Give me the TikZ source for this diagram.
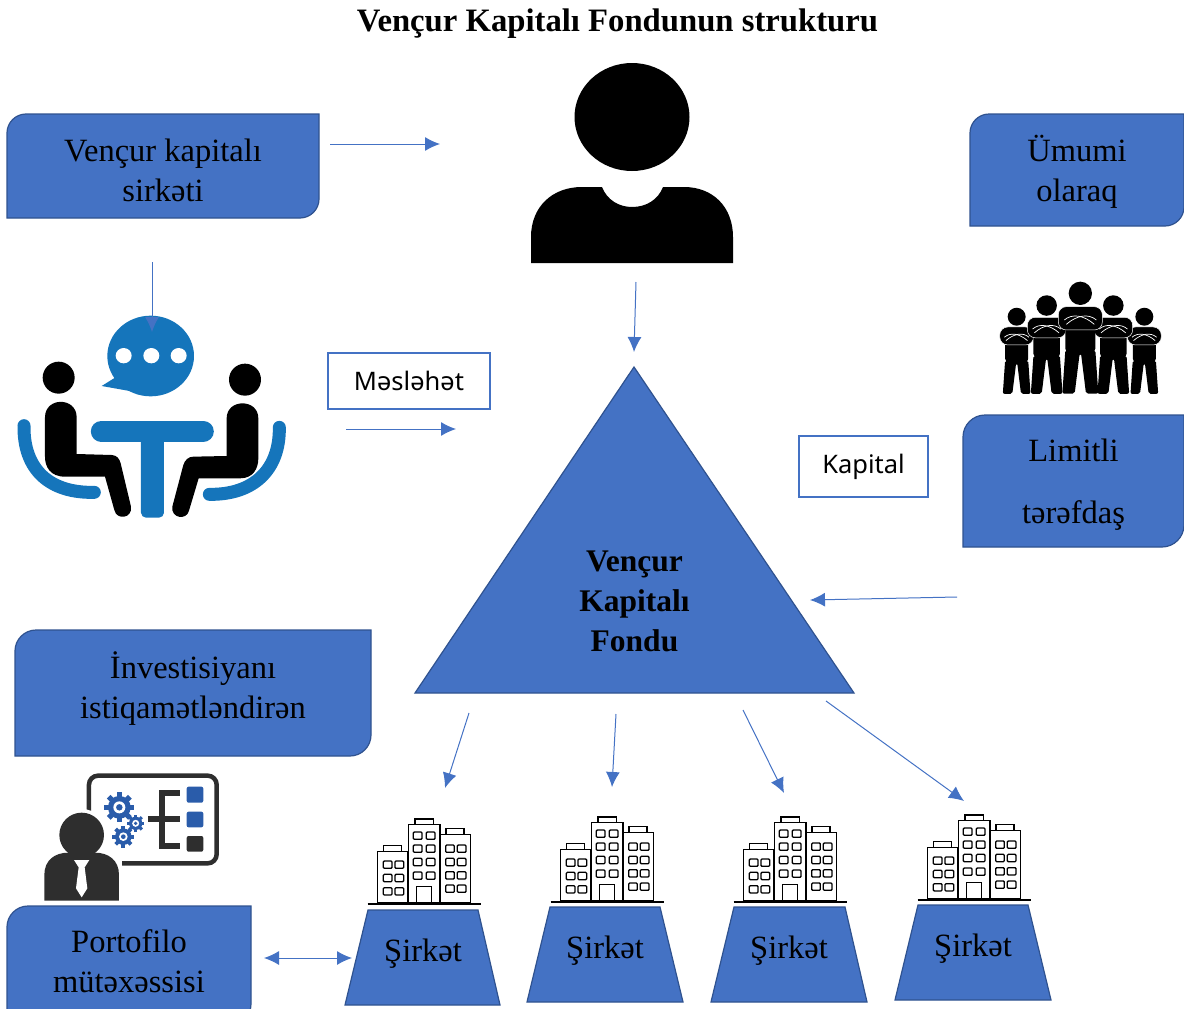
\documentclass[tikz,border=0pt]{standalone}
\usepackage{fontspec}
\setmainfont{Liberation Serif}
\newfontfamily\labelfont{Noto Sans}
\usepackage{tikz}
\usetikzlibrary{calc}
\usetikzlibrary{arrows.meta}
\definecolor{boxblue}{HTML}{4472C4}
\definecolor{boxedge}{HTML}{2F528F}
\definecolor{meetblue}{HTML}{1575BB}
\definecolor{gearblue}{HTML}{2A5CAA}
\definecolor{darkgrey}{HTML}{2E2E2E}
% box with two rounded corners, top left and bottom right
\newcommand{\diagbox}[8]{
\draw[BlueBox] (#4,#3) -- (#4,{#5-#6}) .. controls (#4,{#5-.45*#6}) and ({#4-.45*#6},#5) .. ({#4-#6},#5) -- (#2,#5) -- (#2,{#3+#6}) .. controls (#2,{#3+.45*#6}) and ({#2+.45*#6},#3) .. ({#2+#6},#3) -- cycle;
\node[BoxText] (#1) at ({(#2+#4)/2},#8) {#7};
}
\tikzset{
pics/building/.style={code={
\begin{scope}[scale=1/3]
\draw[line width=1.7pt] (-169,0)--(170,0);
\draw[BuildLine] (-140,-3) rectangle (-50,-158);
\draw[BuildLine] (-122,-158) rectangle (-67,-175);
\draw[BuildLine] (-47,-3) rectangle (48,-238);
\draw[BuildLine] (-27,-238) rectangle (28,-255);
\draw[BuildLine] (50,-3) rectangle (140,-208);
\draw[BuildLine] (66,-208) rectangle (120,-226);
\draw[BuildLine] (-22,-3) rectangle (23,-53);
\foreach \wx in {-109,-74}
\foreach \wy in {-118,-78,-38}
\draw[BuildLine,rounded corners=1pt] (\wx-13,\wy-11) rectangle (\wx+13,\wy+11);
\foreach \wx in {-19,20}
\foreach \wy in {-205,-166,-126,-85}
\draw[BuildLine,rounded corners=1pt] (\wx-13,\wy-11) rectangle (\wx+13,\wy+11);
\foreach \wx in {78,113}
\foreach \wy in {-166,-126,-86,-46}
\draw[BuildLine,rounded corners=1pt] (\wx-13,\wy-11) rectangle (\wx+13,\wy+11);
\end{scope}
}},
pics/teamman/.style={code={
\fill (0,-305) circle (35);
\fill[rounded corners=3pt] (-45,-225) rectangle (45,-130);
\fill[rounded corners=2pt] (-45,-135) -- (45,-135) -- (54,-4) -- (17,-4) -- (2,-125) -- (-2,-125) -- (-17,-4) -- (-54,-4) -- cycle;
\fill[draw=white,line width=.5pt,rounded corners=8pt] (-66,-265) rectangle (66,-195);
\draw[white,line width=.7pt] (-48,-225) .. controls (-25,-245) and (10,-240) .. (42,-212);
\draw[white,line width=.7pt] (48,-225) .. controls (25,-245) and (-10,-240) .. (-42,-212);
}},
pics/gear/.style={code={
\foreach \ga in {0,45,...,315}
\fill[gearblue,rotate=\ga] (-.22,.8) rectangle (.22,1.25);
\fill[gearblue] (0,0) circle (.95);
\fill[white] (0,0) circle (.5);
\fill[gearblue] (0,0) circle (.27);
}}
}
\begin{document}
\begin{tikzpicture}[
x=1pt,y=-1pt,
BlueBox/.style={draw=boxedge,fill=boxblue,line width=1.2pt},
BoxText/.style={align=center,inner sep=0pt,font=\fontsize{32.5}{40}\selectfont},
BoldText/.style={align=center,inner sep=0pt,font=\fontsize{31.5}{40}\selectfont\bfseries},
WhiteBox/.style={draw=boxblue,fill=white,line width=1.8pt,font=\labelfont\fontsize{25.5}{30}\selectfont},
MyArrow/.style={-{Latex[length=15pt,width=14pt]},draw=boxblue,line width=1pt},
BuildLine/.style={draw=black,fill=white,line width=1.3pt}
]
\useasboundingbox (0,0) rectangle (1184,1009);
\clip (0,0) rectangle (1184,1009);

\node[inner sep=0pt,font=\fontsize{32.7}{36}\selectfont\bfseries] (title) at (617.5,24) {Vençur Kapitalı Fondunun strukturu};

% blue boxes
\diagbox{venture}{7}{114}{319}{218}{19}{Vençur kapitalı\\sirkəti}{170}
\diagbox{general}{970}{114}{1184}{226}{19}{Ümumi\\olaraq}{172}
\diagbox{limited}{963}{415}{1184}{547}{22}{Limitli\\[22pt]tərəfdaş}{485}
\diagbox{director}{15}{630}{371}{756}{21}{İnvestisiyanı\\istiqamətləndirən}{688.5}
\diagbox{portfolio}{7}{906}{251}{1025}{21}{Portofilo\\mütəxəssisi}{961.5}

% the fund
\draw[BlueBox,fill=boxblue] (634,367) -- (854,693) -- (415,693) -- cycle;
\node[BoldText] (fund) at (634.5,601) {Vençur\\Kapitalı\\Fondu};

\node[WhiteBox,minimum width=162pt,minimum height=56pt] (advice) at (409,381) {Məsləhət};
\node[WhiteBox,minimum width=129pt,minimum height=61pt] (capital) at (863.5,466.5) {Kapital};

% companies
\draw[BlueBox] (368,910) -- (478,910) -- (500,1005) -- (345,1005) -- cycle;
\draw[BlueBox] (550,907) -- (660,907) -- (683,1002) -- (527,1002) -- cycle;
\draw[BlueBox] (734,907) -- (845,907) -- (867,1002) -- (711,1002) -- cycle;
\draw[BlueBox] (918,905) -- (1028,905) -- (1051,1000) -- (895,1000) -- cycle;
\node[BoxText] (firma) at (423,954) {Şirkət};
\node[BoxText] (firmb) at (605,951) {Şirkət};
\node[BoxText] (firmc) at (789,951) {Şirkət};
\node[BoxText] (firmd) at (973,949) {Şirkət};
\pic at (424,904) {building};
\pic at (607,902) {building};
\pic at (790,902) {building};
\pic at (974,900) {building};

% main person
\fill (632,117) ellipse (57.5 and 54);
\fill (531,263) -- (531,237) .. controls (531,207) and (552,187) .. (582,187) -- (602,187) .. controls (607,200) and (619,207) .. (632,207) .. controls (646,207) and (658,200) .. (663,187) -- (684,187) .. controls (713,187) and (733,207) .. (733,237) -- (733,263) -- cycle;

% meeting
\begin{scope}[shift={(0,250)},scale=1/3]
\fill[meetblue] (452,318) ellipse (130 and 121);
\fill[meetblue] (345,383) -- (305,408) -- (400,425) -- cycle;
\foreach \dx in {371,454,536}
\fill[white] (\dx,317) ellipse (24 and 23);
\fill (176,383) circle (48);
\fill (735,389) circle (48);
\fill (135,502) .. controls (135,440) and (230,440) .. (230,502) -- (230,612) -- (335,615) .. controls (350,616) and (358,625) .. (362,640) -- (393,770) .. controls (398,805) and (350,812) .. (343,780) -- (315,680) -- (195,680) .. controls (150,680) and (135,650) .. (135,620) -- cycle;
\fill (775,505) .. controls (775,445) and (680,445) .. (680,505) -- (680,618) -- (580,620) .. controls (565,620) and (555,630) .. (550,645) -- (517,770) .. controls (512,805) and (560,812) .. (567,782) -- (596,685) -- (720,685) .. controls (760,685) and (775,655) .. (775,625) -- cycle;
\draw[meetblue,line width=13pt,line cap=round] (72,527) .. controls (70,660) and (150,730) .. (283,727);
\draw[meetblue,line width=13pt,line cap=round] (838,532) .. controls (840,660) and (760,735) .. (628,733);
\draw[meetblue,line width=21pt,line cap=round] (304,544)--(610,544);
\fill[meetblue,rounded corners=5pt] (423,544) rectangle (492,803);
\end{scope}

% crowd
\begin{scope}[shift={(960,100)},scale=1/3]
\pic[transform shape,scale=.77] at (170,885) {teamman};
\pic[transform shape,scale=.77] at (553,885) {teamman};
\pic[transform shape,scale=.88] at (260,885) {teamman};
\pic[transform shape,scale=.88] at (460,885) {teamman};
\pic[transform shape] at (361,885) {teamman};
\end{scope}

% specialist
\begin{scope}[shift={(0,760)},scale=1/3]
\draw[darkgrey,line width=4.5pt,rounded corners=9pt] (267,47) rectangle (650,310);
\pic[transform shape,scale=36] at (358,142) {gear};
\pic[transform shape,scale=21] at (407,190) {gear};
\pic[transform shape,scale=26] at (370,230) {gear};
\draw[darkgrey,line width=6pt] (445,178)--(540,178) (540,100)--(485,100)--(485,258)--(540,258);
\fill[gearblue,rounded corners=2pt] (560,80) rectangle (610,128);
\fill[gearblue,rounded corners=2pt] (560,155) rectangle (610,202);
\fill[darkgrey,rounded corners=2pt] (560,228) rectangle (610,275);
\fill[white] (133,422) rectangle (365,290);
\fill[white] (245,225) circle (78);
\fill[darkgrey] (245,225) circle (67);
\fill[darkgrey] (133,422) -- (133,345) .. controls (133,300) and (165,278) .. (205,278) -- (285,278) .. controls (325,278) and (357,300) .. (357,345) -- (357,422) -- cycle;
\fill[white] (222,300) -- (268,300) -- (254,322) -- (262,385) -- (245,412) -- (228,385) -- (236,322) -- cycle;
\end{scope}

% arrows
\coordinate (A1) at (330,144); \coordinate (A2) at (440,144);
\coordinate (B1) at (152,262); \coordinate (B2) at (152,332);
\coordinate (C1) at (636,282); \coordinate (C2) at (634,352);
\coordinate (D1) at (346,429); \coordinate (D2) at (456,429);
\coordinate (E1) at (957,597); \coordinate (E2) at (810,600);
\coordinate (F1) at (469,713); \coordinate (F2) at (445,788);
\coordinate (G1) at (616,714); \coordinate (G2) at (612,787);
\coordinate (H1) at (743,710); \coordinate (H2) at (784,793);
\coordinate (J1) at (826,701); \coordinate (J2) at (964,801);
\coordinate (K1) at (264,958); \coordinate (K2) at (352,958);

\draw[MyArrow] (A1)--(A2);
\draw[MyArrow] (B1)--(B2);
\draw[MyArrow] (C1)--(C2);
\draw[MyArrow] (D1)--(D2);
\draw[MyArrow] (E1)--(E2);
\draw[MyArrow] (F1)--(F2);
\draw[MyArrow] (G1)--(G2);
\draw[MyArrow] (H1)--(H2);
\draw[MyArrow] (J1)--(J2);
\draw[MyArrow,{Latex[length=15pt,width=14pt]}-{Latex[length=15pt,width=14pt]}] (K1)--(K2);

\end{tikzpicture}
\end{document}
